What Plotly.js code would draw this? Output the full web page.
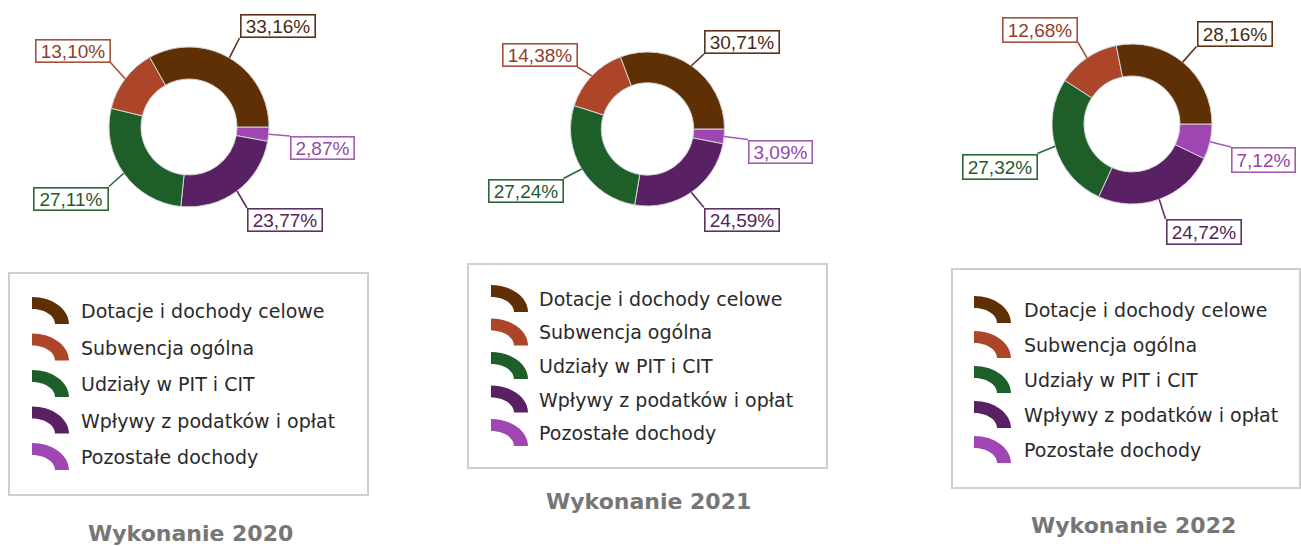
<!DOCTYPE html>
<html><head><meta charset="utf-8">
<script src="https://cdn.plot.ly/plotly-3.0.1.min.js"></script>
<style>html,body{margin:0;padding:0;background:#fff;}#chart{width:1301px;height:546px;}</style>
</head><body><div id="chart"></div>
<script>
// ---- data ----
const categories = ['Dotacje i dochody celowe', 'Subwencja ogólna', 'Udziały w PIT i CIT', 'Wpływy z podatków i opłat', 'Pozostałe dochody'];
const values2020 = [33.16, 13.10, 27.11, 23.77, 2.87];
const values2021 = [30.71, 14.38, 27.24, 24.59, 3.09];
const values2022 = [28.16, 12.68, 27.32, 24.72, 7.12];
const chartTitles = ['Wykonanie 2020', 'Wykonanie 2021', 'Wykonanie 2022'];

// ---- styles ----
const sliceColors = ['#5f3006', '#ad4528', '#1d5e29', '#5a2064', '#a046b3'];
const labelTextColors = ['#4a2a12', '#8e3e2c', '#1f5a2c', '#4f2658', '#9248a6'];
const labelBorderColors = ['#5a3318', '#a4503a', '#2a6636', '#5c3266', '#a25bb6'];

const W = 1301, H = 546;
const px = x => x / W;
const py = y => 1 - y / H;

// layout per panel (pixel positions)
const panels = [
  {values: values2020, cx: 189, cy: 127, r: 80, bh: 24,
   labels: [[277.5, 26], [72.5, 50.5], [71, 198.5], [285, 220], [322.5, 148]],
   legend: {x0: 9, y0: 273, x1: 368, y1: 495, icon: 32, text: 79, row0: 311, step: 36.5},
   title: [190, 533]},
  {values: values2021, cx: 647.5, cy: 129, r: 77, bh: 24,
   labels: [[742, 42], [539.5, 55], [525.5, 190.5], [742, 219.5], [780.5, 151.5]],
   legend: {x0: 468, y0: 264, x1: 827, y1: 468, icon: 491, text: 537, row0: 299, step: 33.5},
   title: [648, 501]},
  {values: values2022, cx: 1132, cy: 124, r: 80, bh: 26,
   labels: [[1234.5, 33.5], [1040, 29.5], [999.5, 166.5], [1203.5, 232], [1263.5, 160]],
   legend: {x0: 952, y0: 269, x1: 1300, y1: 488, icon: 974, text: 1022, row0: 310, step: 35},
   title: [1133, 525]}
];

const data = [];
const shapes = [];
const annotations = [];

panels.forEach((p, k) => {
  const rev = a => a.slice().reverse();
  data.push({
    type: 'pie',
    values: rev(p.values),
    labels: rev(categories),
    marker: {colors: rev(sliceColors), line: {color: '#d4d4d4', width: 1}},
    hole: 0.6, sort: false, direction: 'clockwise', rotation: 90,
    textinfo: 'none', hoverinfo: 'none', showlegend: false,
    domain: {x: [px(p.cx - p.r), px(p.cx + p.r)], y: [py(p.cy + p.r), py(p.cy - p.r)]}
  });

  const total = p.values.reduce((a, b) => a + b, 0);
  let cum = 0;
  p.values.forEach((v, i) => {
    const mid = (cum + v / 2) / total * 2 * Math.PI;
    cum += v;
    const ax = p.cx + p.r * Math.cos(mid);
    const ay = p.cy - p.r * Math.sin(mid);
    const txt = v.toFixed(2).replace('.', ',') + '%';
    const bw = 11 * txt.length + 10;
    const [lx, ly] = p.labels[i];
    const corners = [[lx - bw / 2, ly - p.bh / 2], [lx + bw / 2, ly - p.bh / 2], [lx - bw / 2, ly + p.bh / 2], [lx + bw / 2, ly + p.bh / 2]];
    let best = corners[0], bd = 1e9;
    corners.forEach(c => { const d = Math.hypot(c[0] - ax, c[1] - ay); if (d < bd) { bd = d; best = c; } });
    shapes.push({type: 'line', xref: 'paper', yref: 'paper', x0: px(ax), y0: py(ay), x1: px(best[0]), y1: py(best[1]),
      line: {color: labelBorderColors[i], width: 1.6}});
    annotations.push({text: txt, xref: 'paper', yref: 'paper', x: px(lx), y: py(ly), xanchor: 'center', yanchor: 'middle',
      showarrow: false, bgcolor: '#ffffff', bordercolor: labelBorderColors[i], borderwidth: 1.6, borderpad: 0,
      width: bw - 3.2, height: p.bh - 3.2,
      font: {family: 'Liberation Sans, Arial, sans-serif', size: 19, color: labelTextColors[i]}});
  });

  // legend box
  const L = p.legend;
  shapes.push({type: 'rect', xref: 'paper', yref: 'paper', x0: px(L.x0), x1: px(L.x1), y0: py(L.y1), y1: py(L.y0),
    line: {color: '#cfcfcf', width: 2}, fillcolor: 'rgba(0,0,0,0)'});
  categories.forEach((c, i) => {
    const yc = L.row0 + i * L.step;
    shapes.push({type: 'path', xref: 'paper', yref: 'paper', xsizemode: 'pixel', ysizemode: 'pixel',
      xanchor: px(L.icon), yanchor: py(yc + 13),
      path: 'M 0,27 C 20.4,27 37,14.9 37,0 L 23,0 C 23,8.3 12.7,15 0,15 Z',
      fillcolor: sliceColors[i], line: {width: 0}});
    annotations.push({text: c, xref: 'paper', yref: 'paper', x: px(L.text), y: py(yc), xanchor: 'left', yanchor: 'middle',
      showarrow: false, font: {family: 'DejaVu Sans, Verdana, sans-serif', size: 19, color: '#2a2a2a'}});
  });

  annotations.push({text: chartTitles[k], xref: 'paper', yref: 'paper', x: px(p.title[0]), y: py(p.title[1]),
    xanchor: 'center', yanchor: 'middle', showarrow: false,
    font: {family: 'DejaVu Sans, Arial, sans-serif', size: 22, color: '#767676', weight: 700}});
});

const layout = {
  width: W, height: H, margin: {l: 0, r: 0, t: 0, b: 0},
  paper_bgcolor: '#ffffff', plot_bgcolor: '#ffffff', showlegend: false,
  shapes: shapes, annotations: annotations
};
Plotly.newPlot('chart', data, layout, {staticPlot: true, displayModeBar: false});
</script>
</body></html>
